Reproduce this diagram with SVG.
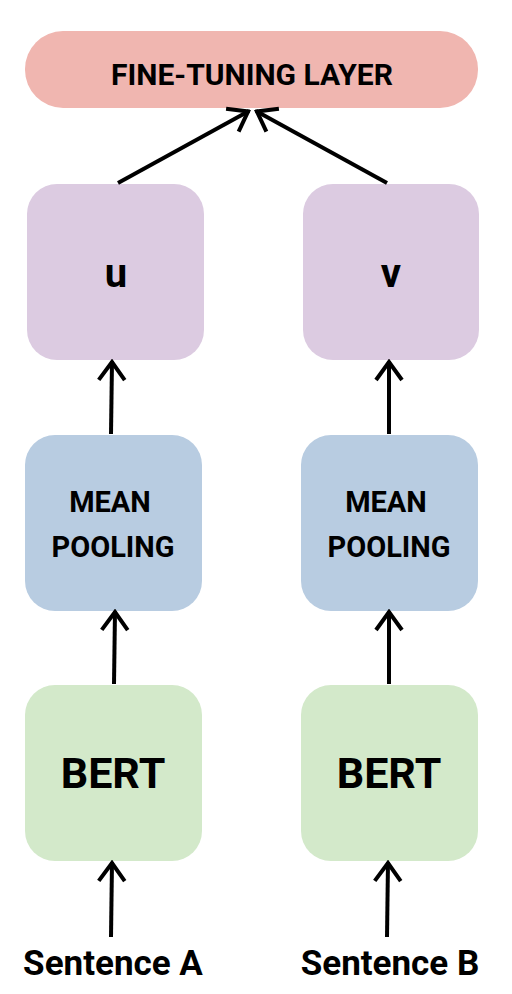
<svg xmlns="http://www.w3.org/2000/svg" width="512" height="994" viewBox="0 0 512 994">
<defs>
<style>
text{font-family:Roboto,"Liberation Sans",sans-serif;font-weight:bold;fill:#000;text-anchor:middle}
.c{stroke:#000;stroke-width:4;fill:none}
</style>
<marker id="ah" viewBox="0 0 24 30" refX="22" refY="15" markerWidth="24" markerHeight="30" markerUnits="userSpaceOnUse" orient="auto">
<path d="M3,2 L21,15 L3,28" fill="none" stroke="#000" stroke-width="4"/>
</marker>
</defs>
<rect width="512" height="994" fill="#fff"/>
<g id="finetune"><rect x="25" y="31" width="453" height="77" rx="38" fill="#f0b6b0"/><text x="252" y="85" font-size="30">FINE-TUNING LAYER</text></g>
<g id="u"><rect x="27" y="184" width="177" height="176" rx="30" fill="#dccbe1"/><text x="116" y="287" font-size="40">u</text></g>
<g id="v"><rect x="303" y="184" width="176" height="176" rx="30" fill="#dccbe1"/><text x="391" y="287" font-size="40">v</text></g>
<g id="poolA"><rect x="25" y="435" width="177" height="176" rx="30" fill="#b8cce1"/><text x="110" y="512" font-size="29">MEAN</text><text x="113" y="557" font-size="29">POOLING</text></g>
<g id="poolB"><rect x="301" y="435" width="177" height="176" rx="30" fill="#b8cce1"/><text x="386" y="512" font-size="29">MEAN</text><text x="389" y="557" font-size="29">POOLING</text></g>
<g id="bertA"><rect x="25" y="685" width="177" height="176" rx="30" fill="#d3e9ca"/><text x="113" y="788" font-size="43">BERT</text></g>
<g id="bertB"><rect x="301" y="685" width="177" height="176" rx="30" fill="#d3e9ca"/><text x="389" y="788" font-size="43">BERT</text></g>
<g id="sentA"><text x="113" y="975" font-size="35">Sentence A</text></g>
<g id="sentB"><text x="390" y="975" font-size="35">Sentence B</text></g>
<g id="connectors">
<line class="c" x1="118" y1="183" x2="249" y2="111" marker-end="url(#ah)"/>
<line class="c" x1="387" y1="183" x2="256" y2="111" marker-end="url(#ah)"/>
<line class="c" x1="111" y1="434" x2="112" y2="361" marker-end="url(#ah)"/>
<line class="c" x1="389" y1="434" x2="389" y2="361" marker-end="url(#ah)"/>
<line class="c" x1="114" y1="684" x2="115" y2="611" marker-end="url(#ah)"/>
<line class="c" x1="389" y1="684" x2="389" y2="611" marker-end="url(#ah)"/>
<line class="c" x1="111" y1="937" x2="112" y2="862" marker-end="url(#ah)"/>
<line class="c" x1="387" y1="937" x2="388" y2="862" marker-end="url(#ah)"/>
</g>
</svg>
